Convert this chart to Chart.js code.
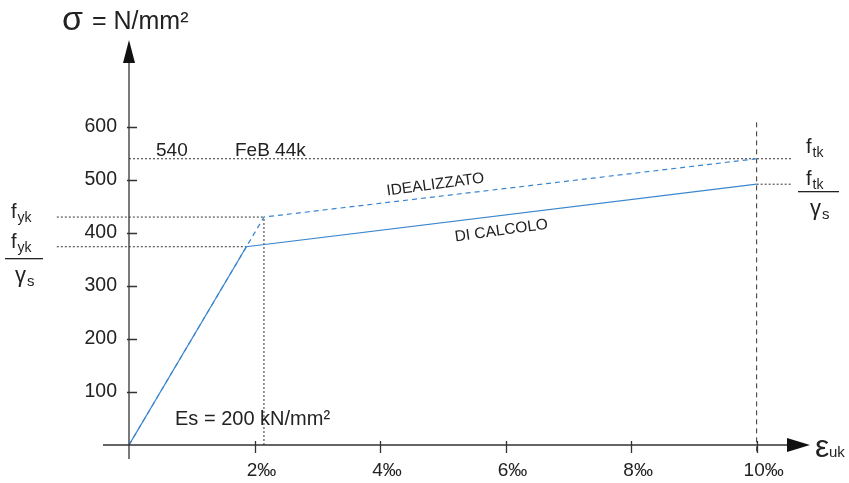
<!DOCTYPE html>
<html>
<head>
<meta charset="utf-8">
<title>FeB 44k - diagramma tensione deformazione</title>
<script src="https://cdn.jsdelivr.net/npm/chart.js@4/dist/chart.umd.min.js"></script>
<style>
  html, body { margin: 0; padding: 0; background: #fff; }
  #chart { display: block; }
</style>
</head>
<body>
<canvas id="chart" width="849" height="483"></canvas>
<script>
// strain in per mille, stress in N/mm2
var designStrain = [0, 1.87, 10];
var designStress = [0, 374, 492];
var idealStrain = [0, 2.15, 10];
var idealStress = [0, 430, 540];
var xTicks = [2, 4, 6, 8, 10];
var xTickLabels = ['2‰', '4‰', '6‰', '8‰', '10‰'];
var yTicks = [100, 200, 300, 400, 500, 600];
var fyk = 430, fyd = 374, ftk = 540, ftd = 492;

var blue = 'rgb(58, 134, 206)';
var ink = '#222';
var font = '"Liberation Sans", Arial, sans-serif';

function pts(xs, ys) {
    return xs.map(function(x, i) { return {x: x, y: ys[i]}; });
}

function refLine(data, dash) {
    return {
        data: data,
        showLine: true,
        borderColor: '#333',
        borderWidth: 1,
        borderDash: dash || [2, 2],
        pointRadius: 0,
        clip: false
    };
}

// f with a subscript, e.g. f_yk
function subText(ctx, main, sub, x, y, size) {
    ctx.textAlign = 'left';
    ctx.textBaseline = 'alphabetic';
    ctx.font = size + 'px ' + font;
    ctx.fillText(main, x, y);
    var w = ctx.measureText(main).width;
    ctx.font = Math.round(size * 0.68) + 'px ' + font;
    ctx.fillText(sub, x + w + 1, y + 4);
}

var axesPlugin = {
    id: 'axes',
    afterDatasetsDraw: function(chart) {
        var ctx = chart.ctx;
        var xs = chart.scales.x, ys = chart.scales.y;
        var x0 = xs.getPixelForValue(0), y0 = ys.getPixelForValue(0);
        var right = chart.chartArea.right, top = chart.chartArea.top;
        ctx.save();
        ctx.strokeStyle = '#333';
        ctx.fillStyle = '#111';
        ctx.lineWidth = 1.3;

        // axes
        ctx.beginPath();
        ctx.moveTo(103, y0); ctx.lineTo(right - 20, y0);
        ctx.moveTo(x0, y0 + 14); ctx.lineTo(x0, top + 20);
        ctx.stroke();
        ctx.beginPath();
        ctx.moveTo(right, y0); ctx.lineTo(right - 23, y0 - 7); ctx.lineTo(right - 23, y0 + 7);
        ctx.closePath(); ctx.fill();
        ctx.beginPath();
        ctx.moveTo(x0, top); ctx.lineTo(x0 - 6, top + 23); ctx.lineTo(x0 + 6, top + 23);
        ctx.closePath(); ctx.fill();

        // ticks
        ctx.beginPath();
        xTicks.forEach(function(v) {
            var px = Math.round(xs.getPixelForValue(v)) + 0.5;
            ctx.moveTo(px, y0 - 4); ctx.lineTo(px, y0 + 8);
        });
        yTicks.forEach(function(v) {
            var py = Math.round(ys.getPixelForValue(v)) + 0.5;
            ctx.moveTo(x0 - 2, py); ctx.lineTo(x0 + 8, py);
        });
        ctx.stroke();

        ctx.fillStyle = ink;
        ctx.font = '19.5px ' + font;
        ctx.textAlign = 'right';
        ctx.textBaseline = 'middle';
        yTicks.forEach(function(v) {
            ctx.fillText(String(v), x0 - 12, ys.getPixelForValue(v));
        });
        ctx.font = '19px ' + font;
        ctx.textAlign = 'center';
        xTicks.forEach(function(v, i) {
            ctx.fillText(xTickLabels[i], xs.getPixelForValue(v) + 7, y0 + 26);
        });

        // axis titles
        ctx.textAlign = 'left';
        ctx.textBaseline = 'alphabetic';
        ctx.font = '34px ' + font;
        ctx.fillText('σ', 62, 30);
        ctx.font = '25px ' + font;
        ctx.fillText('= N/mm²', 92, 29);
        ctx.font = '32px ' + font;
        ctx.fillText('ε', 815, 457);
        ctx.font = '15px ' + font;
        ctx.fillText('uk', 829, 457);

        // annotations
        ctx.font = '19px ' + font;
        ctx.fillText('540', 156, 156);
        ctx.fillText('FeB 44k', 235, 156);
        ctx.font = '20px ' + font;
        ctx.fillText('Es = 200 kN/mm²', 175, 425);

        // labels along the two branches
        var a = Math.atan2(ys.getPixelForValue(idealStress[2]) - ys.getPixelForValue(idealStress[1]),
                           xs.getPixelForValue(idealStrain[2]) - xs.getPixelForValue(idealStrain[1]));
        ctx.font = '15.5px ' + font;
        ctx.textAlign = 'center';
        ctx.save();
        ctx.translate(436, 189); ctx.rotate(a - 0.015);
        ctx.fillText('IDEALIZZATO', 0, 0);
        ctx.restore();
        var b = Math.atan2(ys.getPixelForValue(designStress[2]) - ys.getPixelForValue(designStress[1]),
                           xs.getPixelForValue(designStrain[2]) - xs.getPixelForValue(designStrain[1]));
        ctx.save();
        ctx.translate(502, 235); ctx.rotate(b - 0.015);
        ctx.fillText('DI CALCOLO', 0, 0);
        ctx.restore();

        // characteristic / design strength symbols
        subText(ctx, 'f', 'yk', 11, 218, 20);
        subText(ctx, 'f', 'yk', 11, 248, 20);
        ctx.fillRect(5, 258, 38, 1.3);
        subText(ctx, 'γ', 's', 15, 282, 22);
        subText(ctx, 'f', 'tk', 806, 153, 20);
        subText(ctx, 'f', 'tk', 806, 185, 20);
        ctx.fillRect(798, 191, 41, 1.3);
        subText(ctx, 'γ', 's', 810, 215, 22);
        ctx.restore();
    }
};

new Chart(document.getElementById('chart'), {
    type: 'scatter',
    data: {
        datasets: [
            {
                label: 'DI CALCOLO',
                data: pts(designStrain, designStress),
                showLine: true,
                borderColor: blue,
                borderWidth: 1.2,
                pointRadius: 0
            },
            {
                label: 'IDEALIZZATO',
                data: pts(idealStrain, idealStress),
                showLine: true,
                borderColor: blue,
                borderWidth: 1.2,
                borderDash: [5, 4],
                pointRadius: 0
            },
            refLine([{x: -1.15, y: fyk}, {x: idealStrain[1], y: fyk}]),
            refLine([{x: -1.15, y: fyd}, {x: designStrain[1], y: fyd}]),
            refLine([{x: 0, y: ftk}, {x: 10.55, y: ftk}]),
            refLine([{x: 10, y: ftd}, {x: 10.55, y: ftd}]),
            refLine([{x: idealStrain[1], y: 0}, {x: idealStrain[1], y: fyk}]),
            refLine([{x: 10, y: -12}, {x: 10, y: 612}], [5, 4])
        ]
    },
    options: {
        responsive: false,
        animation: false,
        layout: { padding: { left: 129, right: 39, top: 40, bottom: 38 } },
        scales: {
            x: { type: 'linear', min: 0, max: 10.85, display: false },
            y: { type: 'linear', min: 0, max: 764, display: false }
        },
        plugins: { legend: { display: false }, tooltip: { enabled: false } }
    },
    plugins: [axesPlugin]
});
</script>
</body>
</html>
